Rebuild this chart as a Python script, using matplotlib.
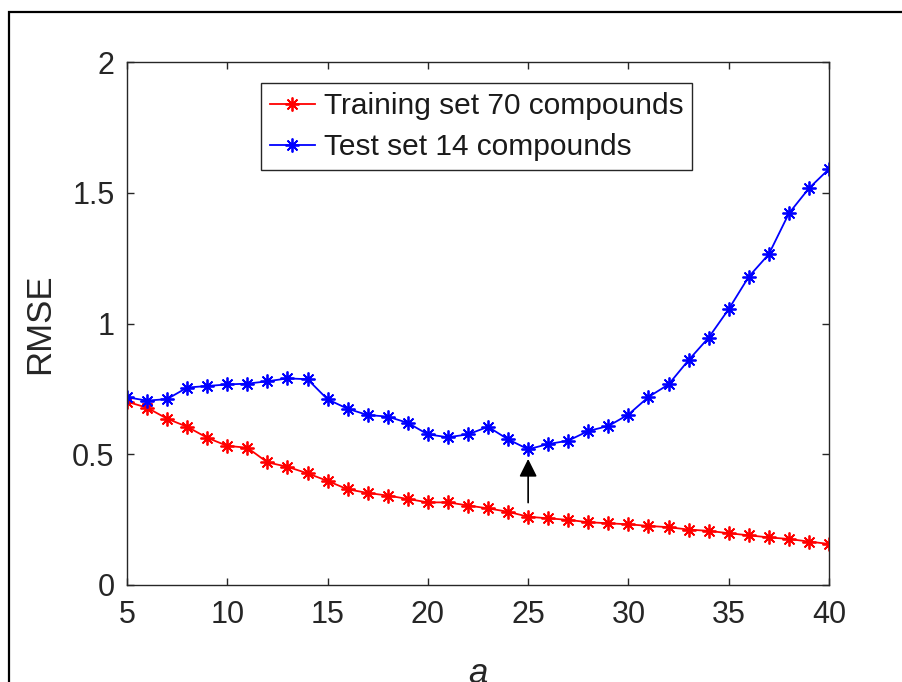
import numpy as np
import matplotlib
matplotlib.use("Agg")
import matplotlib.pyplot as plt
from matplotlib.patches import Rectangle

plt.rcParams['font.family'] = ['Liberation Sans', 'DejaVu Sans']

# number of latent variables
a = list(range(5, 41))

train_rmse = [0.701, 0.678, 0.636, 0.605, 0.563, 0.532, 0.525, 0.469, 0.452, 0.427,
              0.398, 0.366, 0.352, 0.342, 0.329, 0.316, 0.316, 0.304, 0.293, 0.280,
              0.261, 0.255, 0.249, 0.240, 0.236, 0.232, 0.226, 0.221, 0.212, 0.207,
              0.198, 0.190, 0.182, 0.176, 0.166, 0.157]

test_rmse = [0.718, 0.705, 0.711, 0.755, 0.761, 0.767, 0.770, 0.779, 0.790, 0.787,
             0.710, 0.674, 0.650, 0.644, 0.620, 0.576, 0.565, 0.576, 0.605, 0.557,
             0.519, 0.539, 0.552, 0.589, 0.608, 0.652, 0.719, 0.767, 0.860, 0.946,
             1.055, 1.179, 1.265, 1.421, 1.517, 1.591]

train_label = "Training set 70 compounds"
test_label = "Test set 14 compounds"

x_ticks = [5, 10, 15, 20, 25, 30, 35, 40]
y_ticks = [0, 0.5, 1, 1.5, 2]
y_tick_labels = ["0", "0.5", "1", "1.5", "2"]

# arrow marking the optimum of the test curve
arrow_tail = 0.315
arrow_tip = 0.482

W, H = 902, 682
fig = plt.figure(figsize=(W / 100, H / 100), dpi=100)
ax = fig.add_axes([127 / W, 1 - 585 / H, (829 - 127) / W, (585 - 62) / H])

axis_col = '#262626'
asterisk = (8, 2, 0)

ax.plot(a, train_rmse, color='red', lw=1.3, marker=asterisk, ms=10, mew=1.3,
        label=train_label)
ax.plot(a, test_rmse, color='blue', lw=1.3, marker=asterisk, ms=10, mew=1.3,
        label=test_label)

best = a[int(np.argmin(test_rmse))]
ax.annotate('', xy=(best, arrow_tip), xytext=(best, arrow_tail),
            arrowprops=dict(arrowstyle='-|>,head_length=0.4,head_width=0.2',
                            mutation_scale=27, color='black', lw=1.2,
                            shrinkA=0, shrinkB=0))

ax.set_xlim(5, 40)
ax.set_ylim(0, 2)
ax.set_xticks(x_ticks)
ax.set_yticks(y_ticks)
ax.set_yticklabels(y_tick_labels)

for s in ax.spines.values():
    s.set_color(axis_col)
    s.set_linewidth(1.0)
ax.tick_params(direction='in', length=5, width=1.0, colors=axis_col,
               labelsize=22, top=True, right=True, labelcolor=axis_col)
ax.tick_params(axis='x', pad=11)
ax.tick_params(axis='y', pad=9)

ax.set_ylabel('RMSE', fontsize=25, color=axis_col, va='center')
ax.yaxis.set_label_coords(-0.125, 0.5)
ax.set_xlabel('a', fontsize=25, style='italic', color=axis_col, va='top')
ax.xaxis.set_label_coords(0.5, -0.138)

leg = ax.legend(loc='upper left', bbox_to_anchor=(261 / W, 1 - 83 / H),
                bbox_transform=fig.transFigure, fontsize=21.5, frameon=True,
                fancybox=False, framealpha=1, edgecolor=axis_col,
                handlelength=1.5, handletextpad=0.3, borderpad=0.3,
                labelspacing=0.45, borderaxespad=0)
leg.get_frame().set_linewidth(1.0)
for t in leg.get_texts():
    t.set_color('#1a1a1a')

# outer frame around the figure
fig.patches.append(Rectangle((9 / W, -0.1), 1.2, (H - 12) / H + 0.1,
                             transform=fig.transFigure, fill=False,
                             edgecolor='black', lw=1.6))

fig.savefig('out.png', dpi=100)
